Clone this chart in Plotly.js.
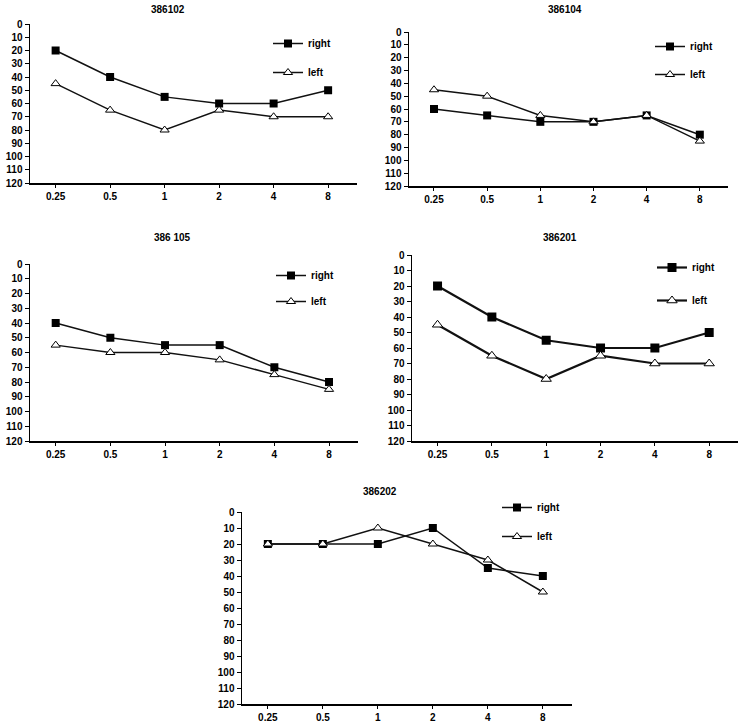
<!DOCTYPE html>
<html>
<head>
<meta charset="utf-8">
<script src="https://cdn.plot.ly/plotly-3.0.1.min.js"></script>
<style>html,body{margin:0;padding:0;background:#fff;}#chart{width:741px;height:728px;}</style>
</head>
<body>
<div id="chart"></div>
<script>
// ---- data ----
const freqs = ['0.25', '0.5', '1', '2', '4', '8'];
const yTickVals = [0, 10, 20, 30, 40, 50, 60, 70, 80, 90, 100, 110, 120];
const panelNames = ['386102', '386104', '386 105', '386201', '386202'];
const right386102 = [20, 40, 55, 60, 60, 50];
const left386102  = [45, 65, 80, 65, 70, 70];
const right386104 = [60, 65, 70, 70, 65, 80];
const left386104  = [45, 50, 65, 70, 65, 85];
const right386105 = [40, 50, 55, 55, 70, 80];
const left386105  = [55, 60, 60, 65, 75, 85];
const right386201 = [20, 40, 55, 60, 60, 50];
const left386201  = [45, 65, 80, 65, 70, 70];
const right386202 = [20, 20, 20, 10, 35, 40];
const left386202  = [20, 20, 10, 20, 30, 50];

const rightSeries = [right386102, right386104, right386105, right386201, right386202];
const leftSeries  = [left386102, left386104, left386105, left386201, left386202];

// ---- layout geometry (pixels in a 741x728 page) ----
const W = 741, H = 728;
const panels = [
  {x0: 30,  x1: 357, y0: 24,  y1: 183, title: [168, 10],  leg: [268, 29],  gap: 10, lw: 1.5, ms: 8},
  {x0: 409, x1: 728, y0: 32,  y1: 186, title: [565, 10],  leg: [650, 32],  gap: 9,  lw: 1.5, ms: 8},
  {x0: 30,  x1: 358, y0: 264, y1: 441, title: [172, 238], leg: [271, 261], gap: 7,  lw: 1.5, ms: 8},
  {x0: 412, x1: 738, y0: 255, y1: 441, title: [560, 238], leg: [652, 253], gap: 14, lw: 2.2, ms: 9},
  {x0: 242, x1: 572, y0: 512, y1: 704, title: [380, 491], leg: [497, 493], gap: 10, lw: 1.5, ms: 8}
];

const FONT = {family: 'Liberation Sans, Arial, sans-serif', size: 10, color: '#000', weight: 'bold'};

const traces = [];
const layout = {
  width: W, height: H,
  margin: {l: 0, r: 0, t: 0, b: 0},
  paper_bgcolor: '#fff', plot_bgcolor: '#fff',
  font: FONT,
  showlegend: true,
  annotations: []
};

panels.forEach((p, i) => {
  const n = i + 1;
  const xa = 'x' + (n === 1 ? '' : n), ya = 'y' + (n === 1 ? '' : n);
  const legName = 'legend' + (n === 1 ? '' : n);
  traces.push({
    x: freqs, y: rightSeries[i], xaxis: xa, yaxis: ya, name: 'right',
    mode: 'lines+markers', type: 'scatter', legend: legName, legendgroup: 'r' + n,
    line: {color: '#111', width: p.lw},
    marker: {symbol: 'square', size: p.ms, color: '#000'}
  });
  traces.push({
    x: freqs, y: leftSeries[i], xaxis: xa, yaxis: ya, name: 'left',
    mode: 'lines+markers', type: 'scatter', legend: legName, legendgroup: 'l' + n,
    line: {color: '#111', width: p.lw},
    marker: {symbol: 'triangle-up', size: p.ms, color: '#fff', line: {color: '#000', width: 1}}
  });
  const xk = 'xaxis' + (n === 1 ? '' : n), yk = 'yaxis' + (n === 1 ? '' : n);
  layout[xk] = {
    domain: [p.x0 / W, p.x1 / W], anchor: ya, type: 'category',
    range: [-0.47, 5.53], showgrid: false, zeroline: false,
    showline: true, linecolor: '#000', linewidth: 1.5,
    ticks: 'outside', ticklen: 3, tickcolor: '#000', tickwidth: 1,
    tickfont: FONT, fixedrange: true
  };
  layout[yk] = {
    domain: [1 - p.y1 / H, 1 - p.y0 / H], anchor: xa,
    range: [120, 0], tickvals: yTickVals, showgrid: false, zeroline: false,
    showline: true, linecolor: '#000', linewidth: 1.5,
    ticks: 'outside', ticklen: 4, tickcolor: '#000', tickwidth: 1,
    tickfont: FONT, fixedrange: true
  };
  layout[legName] = {
    x: p.leg[0] / W, y: 1 - p.leg[1] / H, xanchor: 'left', yanchor: 'top',
    bgcolor: 'rgba(0,0,0,0)', borderwidth: 0, font: FONT,
    traceorder: 'grouped', tracegroupgap: p.gap, itemclick: false
  };
  layout.annotations.push({
    text: panelNames[i], xref: 'paper', yref: 'paper',
    x: p.title[0] / W, y: 1 - p.title[1] / H, showarrow: false,
    xanchor: 'center', yanchor: 'middle', font: FONT
  });
});

Plotly.newPlot('chart', traces, layout, {displayModeBar: false, staticPlot: true});
</script>
</body>
</html>
